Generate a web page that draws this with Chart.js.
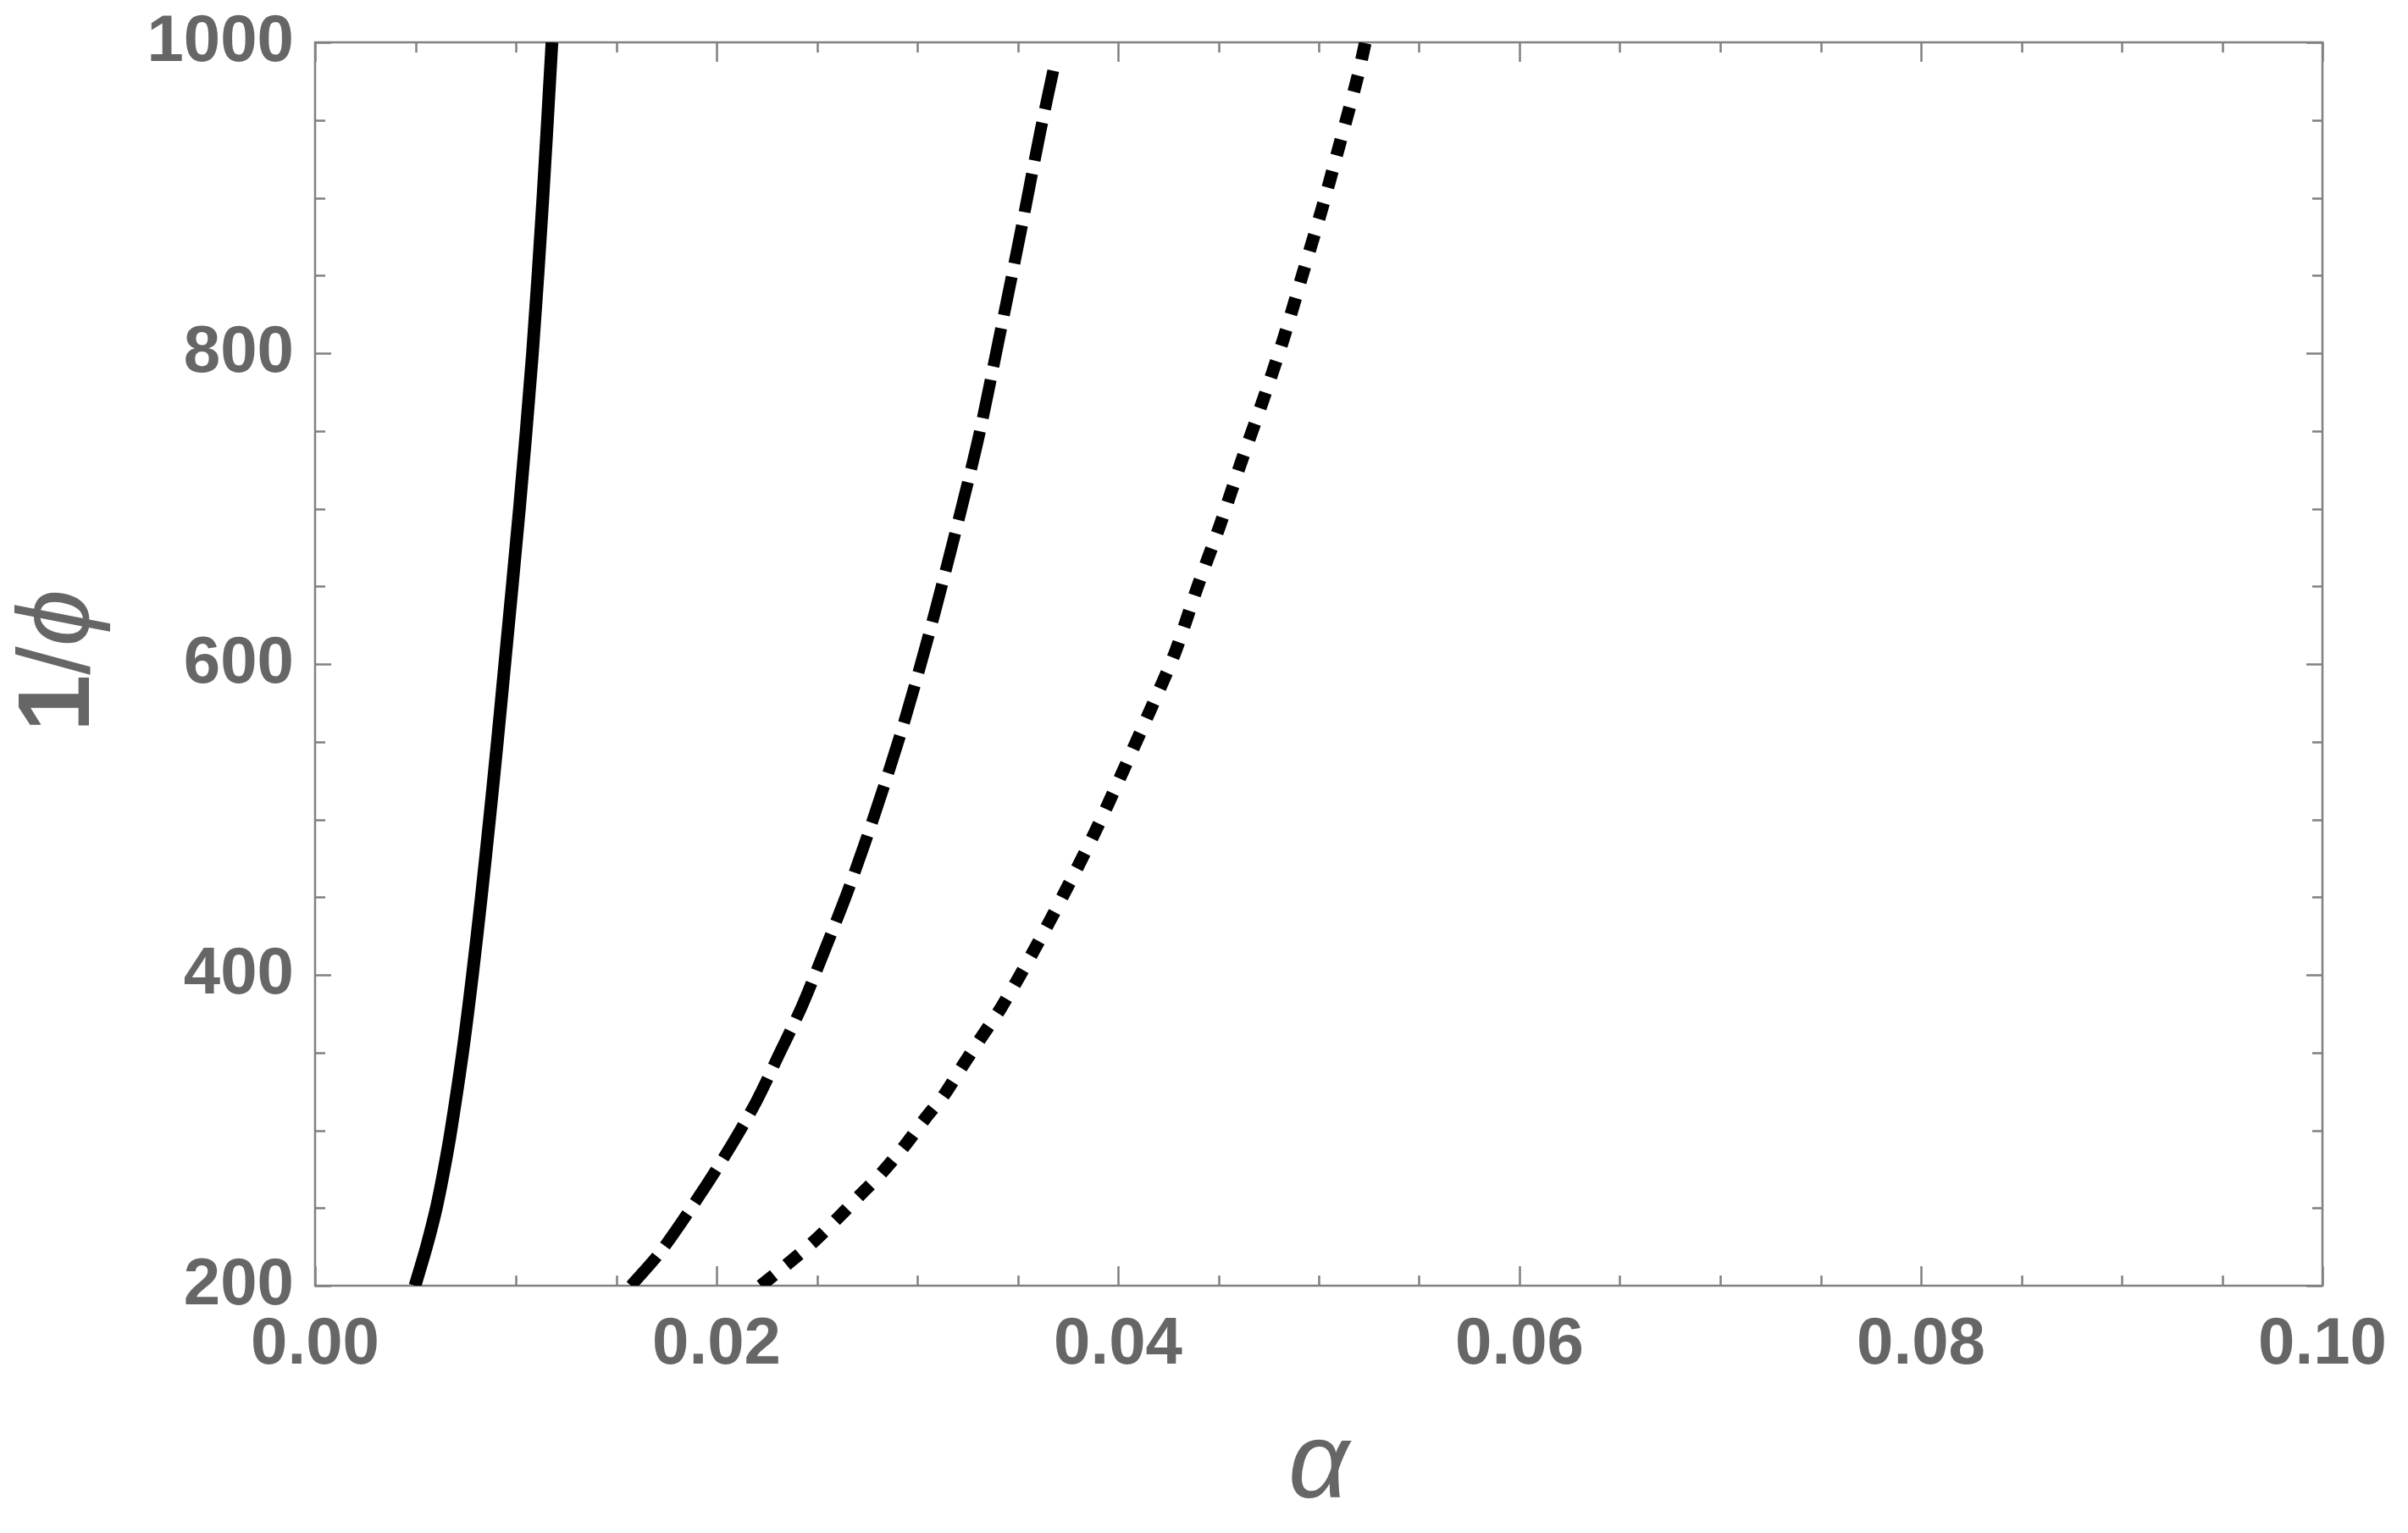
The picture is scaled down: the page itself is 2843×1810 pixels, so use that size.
<!DOCTYPE html>
<html>
<head>
<meta charset="utf-8">
<script src="https://cdn.jsdelivr.net/npm/chart.js@4.4.1/dist/chart.umd.min.js"></script>
<style>
  html, body { margin: 0; padding: 0; background: #fff; }
  #wrap { width: 2843px; height: 1810px; }
</style>
</head>
<body>
<div id="wrap"><canvas id="chart"></canvas></div>
<script>
// curves: alpha (x) vs 1/phi (y)
const solidAlpha  = [0.00498, 0.00555, 0.00604, 0.00643, 0.00677, 0.00735, 0.00784, 0.00828, 0.00869, 0.00908, 0.00945, 0.01018, 0.01083, 0.01135, 0.0118];
const solidInvPhi = [200, 225, 250, 275, 300, 350, 400, 450, 500, 550, 600, 700, 800, 900, 1000];

const dashedAlpha  = [0.01574, 0.01722, 0.0192, 0.02072, 0.0220, 0.02312, 0.02426, 0.02530, 0.0266, 0.028, 0.0294, 0.03093, 0.03295, 0.03405, 0.03509, 0.03612, 0.03686];
const dashedInvPhi = [200, 222, 259, 290, 319, 349, 380, 413, 456, 508, 565, 636, 740, 808, 874, 942, 987];

const dottedAlpha  = [0.0222, 0.02354, 0.02481, 0.02608, 0.02713, 0.02819, 0.02937, 0.03042, 0.03135, 0.03228, 0.03325, 0.03418, 0.03578, 0.03734, 0.03882, 0.04021, 0.04156, 0.04283, 0.04394, 0.04507, 0.04611, 0.04723, 0.04826, 0.0492, 0.05016, 0.05101, 0.05194, 0.05232];
const dottedInvPhi = [200, 214, 228, 244, 258, 272, 290, 308, 323, 342, 361, 379, 415, 453, 491, 530, 569, 607, 649, 689, 729, 770, 810, 851, 893, 933, 978, 1000];

const xTicks = [0, 0.02, 0.04, 0.06, 0.08, 0.1];
const yTicks = [200, 400, 600, 800, 1000];
const xMinor = 0.005;
const yMinor = 50;

const GRAY = '#666666';
const FRAME = '#808080';
const FONT = "'Liberation Sans', Arial, sans-serif";

Chart.defaults.font.family = FONT;

const pts = (xs, ys) => xs.map((v, i) => ({ x: v, y: ys[i] }));

// Mathematica-like frame with inward ticks on all four sides
const framePlugin = {
  id: 'frame',
  beforeDatasetsDraw(chart) {
    const { ctx, chartArea: a, scales: { x, y } } = chart;
    ctx.save();
    ctx.strokeStyle = FRAME;
    ctx.lineWidth = 2.5;
    ctx.strokeRect(a.left, a.top, a.right - a.left, a.bottom - a.top);
    ctx.beginPath();
    for (let v = x.min; v <= x.max + 1e-9; v += xMinor) {
      const px = Math.round(x.getPixelForValue(v)) + 0.5;
      const len = xTicks.some(t => Math.abs(t - v) < 1e-9) ? 23 : 12;
      ctx.moveTo(px, a.bottom); ctx.lineTo(px, a.bottom - len);
      ctx.moveTo(px, a.top); ctx.lineTo(px, a.top + len);
    }
    for (let v = y.min; v <= y.max + 1e-9; v += yMinor) {
      const py = Math.round(y.getPixelForValue(v)) + 0.5;
      const len = yTicks.includes(v) ? 19 : 12;
      ctx.moveTo(a.left, py); ctx.lineTo(a.left + len, py);
      ctx.moveTo(a.right, py); ctx.lineTo(a.right - len, py);
    }
    ctx.stroke();
    ctx.restore();
  },
};

// y title "1/ϕ" with a bold 1 and a thin italic phi
const yTitleParts = [
  { text: '1', font: `bold 121px ${FONT}` },
  { text: '/', font: `121px ${FONT}` },
  { text: 'ϕ', font: `italic 121px ${FONT}` },
];
const yTitlePlugin = {
  id: 'yTitle',
  afterDraw(chart) {
    const { ctx, chartArea: a } = chart;
    ctx.save();
    ctx.fillStyle = GRAY;
    ctx.textBaseline = 'alphabetic';
    ctx.translate(105, (a.top + a.bottom) / 2 - 4);
    ctx.rotate(-Math.PI / 2);
    let w = 0;
    yTitleParts.forEach(p => { ctx.font = p.font; w += ctx.measureText(p.text).width; });
    let cx = -w / 2;
    yTitleParts.forEach(p => {
      ctx.font = p.font;
      ctx.fillText(p.text, cx, 0);
      cx += ctx.measureText(p.text).width;
    });
    ctx.restore();
  },
};

new Chart(document.getElementById('chart'), {
  type: 'line',
  data: {
    datasets: [
      { data: pts(solidAlpha, solidInvPhi), borderColor: '#000', borderWidth: 15 },
      { data: pts(dashedAlpha, dashedInvPhi), borderColor: '#000', borderWidth: 14, borderDash: [46, 16] },
      { data: pts(dottedAlpha, dottedInvPhi), borderColor: '#000', borderWidth: 15, borderDash: [20, 19] },
    ],
  },
  options: {
    responsive: true,
    maintainAspectRatio: false,
    animation: false,
    layout: { padding: { top: 50, right: 101, bottom: 0, left: 0 } },
    elements: {
      point: { radius: 0 },
      line: { tension: 0.3, borderCapStyle: 'butt', fill: false },
    },
    plugins: { legend: { display: false }, tooltip: { enabled: false } },
    scales: {
      x: {
        type: 'linear', min: 0, max: 0.1,
        afterBuildTicks: s => { s.ticks = xTicks.map(v => ({ value: v })); },
        afterFit: s => { s.height = 292; },
        grid: { display: false, drawTicks: false },
        border: { display: false },
        ticks: { color: GRAY, padding: 24, maxRotation: 0, autoSkip: false,
          font: { size: 78, weight: 'bold' }, callback: v => v.toFixed(2) },
        title: { display: true, text: 'α', color: GRAY, padding: { top: 0, bottom: 14 },
          font: { size: 126, style: 'italic', weight: 'normal', lineHeight: 1 } },
      },
      y: {
        type: 'linear', min: 200, max: 1000,
        afterBuildTicks: s => { s.ticks = yTicks.map(v => ({ value: v })); },
        afterFit: s => { s.width = 372; },
        grid: { display: false, drawTicks: false },
        border: { display: false },
        ticks: { color: GRAY, padding: 25, autoSkip: false,
          font: { size: 78, weight: 'bold', lineHeight: 0.6 }, callback: v => String(v) },
      },
    },
  },
  plugins: [framePlugin, yTitlePlugin],
});
</script>
</body>
</html>
